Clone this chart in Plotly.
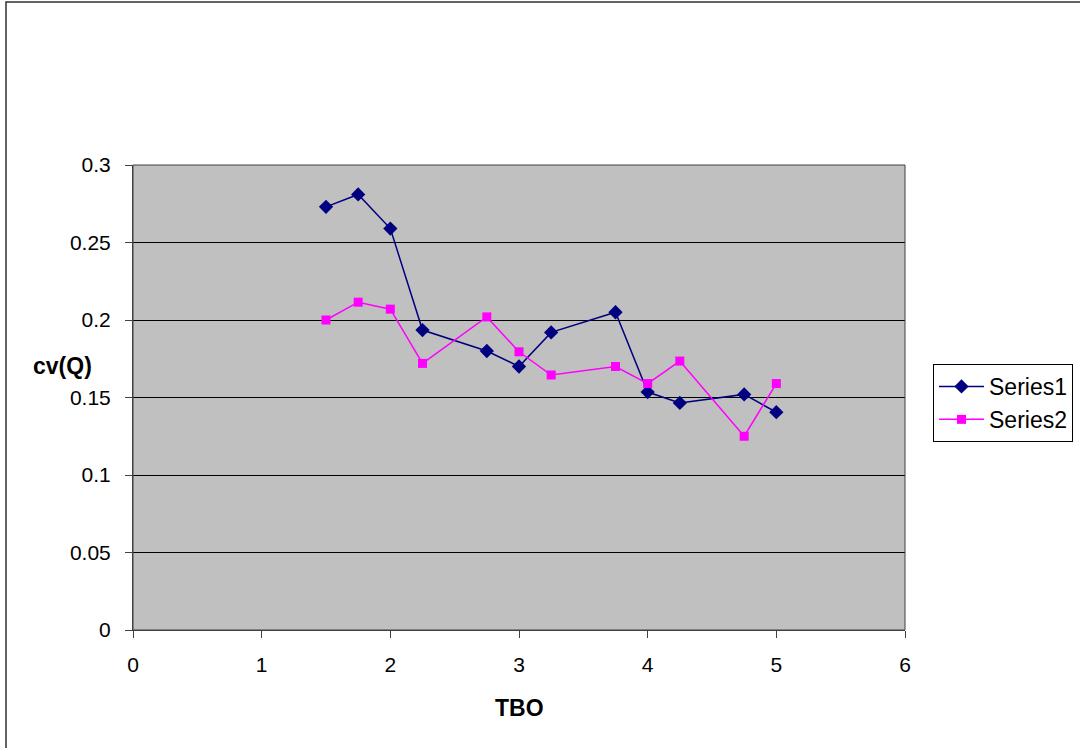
import plotly.graph_objects as go

tbo = [1.5, 1.75, 2.0, 2.25, 2.75, 3.0, 3.25, 3.75, 4.0, 4.25, 4.75, 5.0]
series1 = [0.273, 0.281, 0.259, 0.1935, 0.180, 0.170, 0.192, 0.205, 0.1535, 0.1465, 0.152, 0.1405]
series2 = [0.200, 0.2115, 0.207, 0.172, 0.202, 0.1795, 0.1645, 0.170, 0.159, 0.1735, 0.125, 0.159]

W, H = 1080, 748
L, R, T, B = 133, 175, 165, 118
pw, ph = W - L - R, H - T - B

def px(x):
    return (x - L) / pw

def py(y):
    return (H - B - y) / ph

FAM = "Liberation Sans, Arial, sans-serif"
font = dict(family=FAM, size=21, color="black")
tfont = dict(family=FAM, size=23, color="black")

fig = go.Figure()
fig.add_trace(go.Scatter(x=tbo, y=series1, mode="lines+markers", name="Series1",
                         line=dict(color="#000080", width=1.5),
                         marker=dict(symbol="diamond", size=11, color="#000080")))
fig.add_trace(go.Scatter(x=tbo, y=series2, mode="lines+markers", name="Series2",
                         line=dict(color="#FF00FF", width=1.5),
                         marker=dict(symbol="square", size=9, color="#FF00FF")))

fig.update_layout(
    width=W, height=H,
    margin=dict(l=L, r=R, t=T, b=B, autoexpand=False),
    paper_bgcolor="white", plot_bgcolor="#C0C0C0",
    font=font,
    showlegend=True,
    legend=dict(x=px(933), y=py(403), xanchor="left", yanchor="middle",
                bordercolor="black", borderwidth=1, bgcolor="white",
                font=dict(family=FAM, size=23, color="black"),
                tracegroupgap=0, itemwidth=45),
    xaxis=dict(range=[0, 6], dtick=1, tick0=0, showgrid=False, zeroline=False,
               showline=True, linecolor="#404040", linewidth=1,
               ticks="outside", ticklen=7, tickcolor="#404040",
               tickfont=font, ticklabelstandoff=9),
    yaxis=dict(range=[0, 0.3], dtick=0.05, tick0=0, showgrid=True, gridcolor="black",
               gridwidth=1, zeroline=False, showline=True, linecolor="#404040",
               linewidth=1, ticks="outside", ticklen=7, tickcolor="#404040",
               tickfont=font, tickformat="~g", ticklabelstandoff=10),
    annotations=[
        dict(text="<b>cv(Q)</b>", x=px(62), y=py(366), xref="paper", yref="paper",
             showarrow=False, font=tfont, xanchor="center", yanchor="middle"),
        dict(text="<b>TBO</b>", x=px(519), y=py(708), xref="paper", yref="paper",
             showarrow=False, font=tfont, xanchor="center", yanchor="middle"),
    ],
    shapes=[
        dict(type="rect", xref="paper", yref="paper", x0=px(6), x1=px(1090),
             y0=py(760), y1=py(2), line=dict(color="#303030", width=1.5)),
        dict(type="rect", xref="paper", yref="paper", x0=0, x1=1, y0=0, y1=1,
             line=dict(color="#404040", width=1)),
    ],
)

fig.write_html("out.html", config={"displayModeBar": False},
               post_script="document.body.style.margin='0';document.body.style.overflow='hidden';")
